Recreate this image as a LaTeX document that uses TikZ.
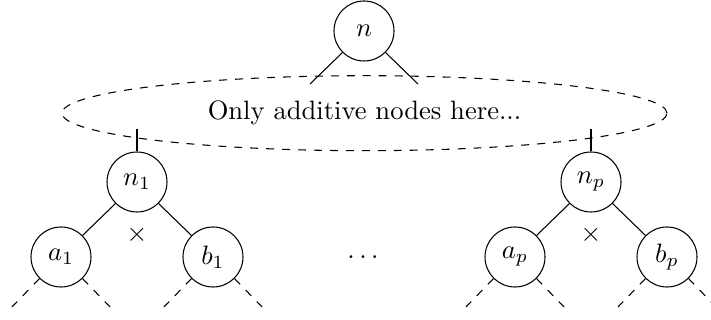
\documentclass[tikz,border=0pt]{standalone}
\usetikzlibrary{shapes.geometric,calc}
\begin{document}
\begin{tikzpicture}[x=0.376pt,y=-0.376pt,line width=0.4pt,
  tnode/.style={circle,draw,minimum size=22.56pt,inner sep=0pt},
  region/.style={ellipse,draw,dashed,minimum width=227.5pt,minimum height=28.2pt,inner sep=0pt},
  leg/.style={dashed}]
\useasboundingbox (0,0) rectangle (711,320);
% region
\node[region] (E) at (364.5,113.2) {Only additive nodes here...};
% root
\node[tnode] (n) at (364,31) {$n$};
\coordinate (nl) at (310,84);
\coordinate (nr) at (418,84);
\draw (n.-135) -- (nl);
\draw (n.-45) -- (nr);
% left product
\node[tnode] (n1) at (137,182) {$n_1$};
\node[tnode] (a1) at (61,257) {$a_1$};
\node[tnode] (b1) at (213,257) {$b_1$};
\node (x1) at (137,235) {$\times$};
\coordinate (n1t) at (137,129);
\draw (n1.north) -- (n1t);
\draw (n1.-135) -- (a1.45);
\draw (n1.-45) -- (b1.135);
\coordinate (a1l) at (12,307);
\coordinate (a1r) at (110,307);
\coordinate (b1l) at (164,307);
\coordinate (b1r) at (262,307);
\draw[leg] (a1.-135) -- (a1l);
\draw[leg] (a1.-45) -- (a1r);
\draw[leg] (b1.-135) -- (b1l);
\draw[leg] (b1.-45) -- (b1r);
% dots
\node (dots) at (363,257) {$\dots$};
% right product
\node[tnode] (np) at (591,182) {$n_p$};
\node[tnode] (ap) at (515,257) {$a_p$};
\node[tnode] (bp) at (667,257) {$b_p$};
\node (xp) at (591,235) {$\times$};
\coordinate (npt) at (591,129);
\draw (np.north) -- (npt);
\draw (np.-135) -- (ap.45);
\draw (np.-45) -- (bp.135);
\coordinate (apl) at (466,307);
\coordinate (apr) at (564,307);
\coordinate (bpl) at (618,307);
\coordinate (bpr) at (716,307);
\draw[leg] (ap.-135) -- (apl);
\draw[leg] (ap.-45) -- (apr);
\draw[leg] (bp.-135) -- (bpl);
\draw[leg] (bp.-45) -- (bpr);
\end{tikzpicture}
\end{document}
